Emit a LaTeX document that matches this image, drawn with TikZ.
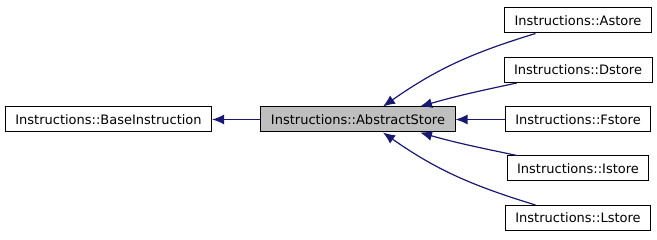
\documentclass[tikz,border=0pt]{standalone}
\usepackage{fontspec}
\setmainfont{DejaVu Sans}
\usepackage{tikz}
\usetikzlibrary{arrows.meta}

\begin{document}
\begin{tikzpicture}[x=1pt,y=-1pt,
    cls/.style={draw=black,line width=1pt,minimum height=25pt,inner xsep=10pt,
      font=\fontsize{13}{15}\selectfont},
    curcls/.style={cls,fill=black!25},
    inh/.style={draw={rgb,255:red,25;green,25;blue,112},line width=1.2pt,
      -{Latex[length=12pt,width=10pt]}}]
  \useasboundingbox (0,0) rectangle (657,240);
  \node[cls] (base) at (108.5,119.5) {Instructions::BaseInstruction};
  \node[curcls] (abs) at (358,119.5) {Instructions::AbstractStore};
  \node[cls] (astore) at (578,20.5) {Instructions::Astore};
  \node[cls] (dstore) at (578,70) {Instructions::Dstore};
  \node[cls] (fstore) at (578,119.5) {Instructions::Fstore};
  \node[cls] (istore) at (578,168.5) {Instructions::Istore};
  \node[cls] (lstore) at (578,218) {Instructions::Lstore};
  % derived classes point back to their parent
  \draw[inh] (abs.west) -- (base.east);
  \draw[inh] (astore.197) to[out=197,in=35] ([xshift=25pt]abs.north);
  \draw[inh] (dstore.192) to[out=192,in=16] ([xshift=62pt]abs.north);
  \draw[inh] (fstore.west) -- (abs.east);
  \draw[inh] (istore.168) to[out=168,in=-16] ([xshift=62pt]abs.south);
  \draw[inh] (lstore.163) to[out=163,in=-35] ([xshift=25pt]abs.south);
\end{tikzpicture}
\end{document}
